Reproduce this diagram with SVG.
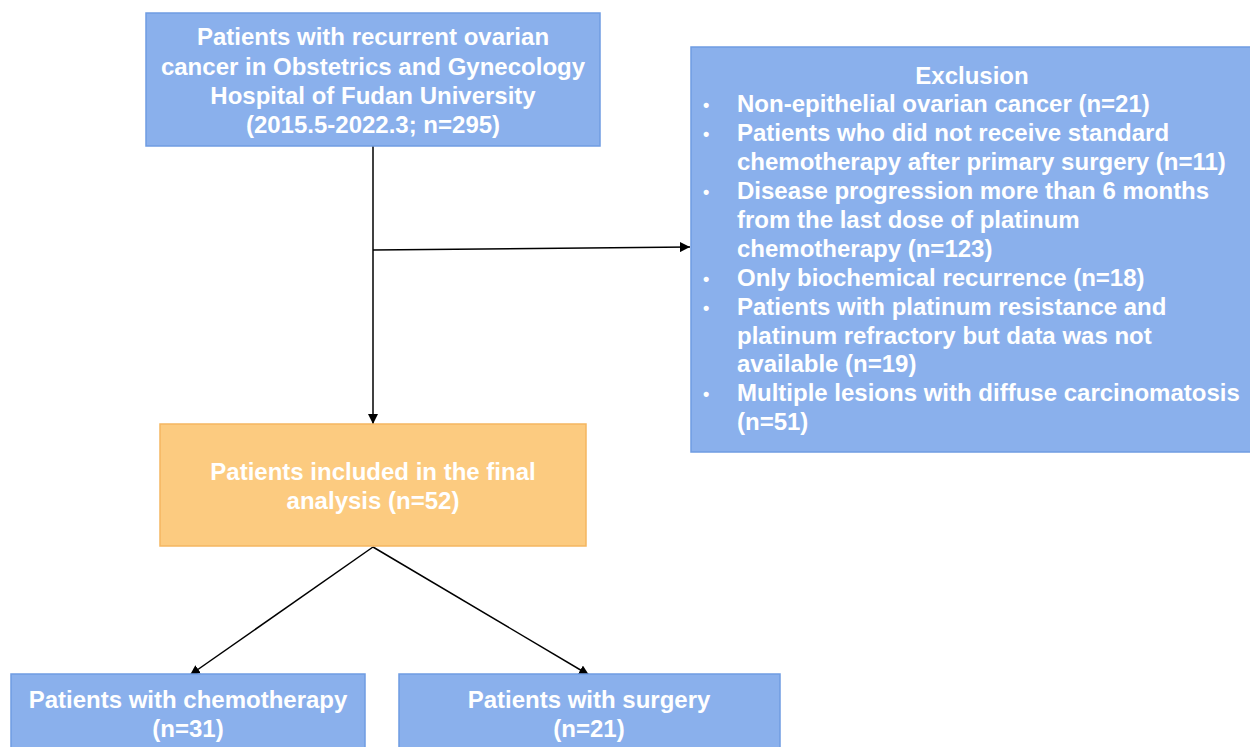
<svg xmlns="http://www.w3.org/2000/svg" width="1250" height="747" viewBox="0 0 1250 747">
<defs>
<marker id="ah" viewBox="0 0 10 10" refX="10" refY="5" markerWidth="10" markerHeight="10" markerUnits="userSpaceOnUse" orient="auto">
<path d="M0,0 L10,5 L0,10 z" fill="#000"/>
</marker>
<style>
.blue{fill:#8AB0EC;stroke:#6F9CE2;stroke-width:1.5}
.orange{fill:#FCCB80;stroke:#F5B660;stroke-width:1.5}
.t{font-family:"Liberation Sans",Arial,sans-serif;font-weight:bold;font-size:24px;fill:#fff}
.c{text-anchor:middle}
.b{font-size:18px}
.ln{stroke:#000;stroke-width:1.5;fill:none}
</style>
</defs>
<rect width="1250" height="747" fill="#fff"/>
<g id="connectors">
<line class="ln" x1="373" y1="146" x2="373" y2="424" marker-end="url(#ah)"/>
<line class="ln" x1="373" y1="250" x2="690" y2="247" marker-end="url(#ah)"/>
<line class="ln" x1="373" y1="547" x2="190" y2="675" marker-end="url(#ah)"/>
<line class="ln" x1="373" y1="547" x2="589" y2="675" marker-end="url(#ah)"/>
</g>
<g id="source">
<rect class="blue" x="146" y="13" width="454" height="133"/>
<text class="t c" x="373" y="45">Patients with recurrent ovarian</text>
<text class="t c" x="373" y="75">cancer in Obstetrics and Gynecology</text>
<text class="t c" x="373" y="104">Hospital of Fudan University</text>
<text class="t c" x="373" y="133">(2015.5-2022.3; n=295)</text>
</g>
<g id="exclusion">
<rect class="blue" x="691" y="47" width="565" height="405"/>
<text class="t c" x="972" y="84">Exclusion</text>
<g class="t">
<text class="b" x="703" y="111">•</text><text x="737" y="112">Non-epithelial ovarian cancer (n=21)</text>
<text class="b" x="703" y="140">•</text><text x="737" y="141">Patients who did not receive standard</text>
<text x="737" y="170">chemotherapy after primary surgery (n=11)</text>
<text class="b" x="703" y="198">•</text><text x="737" y="199">Disease progression more than 6 months</text>
<text x="737" y="228">from the last dose of platinum</text>
<text x="737" y="257">chemotherapy (n=123)</text>
<text class="b" x="703" y="285">•</text><text x="737" y="286">Only biochemical recurrence (n=18)</text>
<text class="b" x="703" y="314">•</text><text x="737" y="315">Patients with platinum resistance and</text>
<text x="737" y="344">platinum refractory but data was not</text>
<text x="737" y="372">available (n=19)</text>
<text class="b" x="703" y="400">•</text><text x="737" y="401">Multiple lesions with diffuse carcinomatosis</text>
<text x="737" y="430">(n=51)</text>
</g>
</g>
<g id="included">
<rect class="orange" x="160" y="424" width="426" height="122"/>
<text class="t c" x="373" y="480">Patients included in the final</text>
<text class="t c" x="373" y="509">analysis (n=52)</text>
</g>
<g id="chemo">
<rect class="blue" x="11" y="674" width="354" height="80"/>
<text class="t c" x="188" y="708">Patients with chemotherapy</text>
<text class="t c" x="188" y="737">(n=31)</text>
</g>
<g id="surgery">
<rect class="blue" x="399" y="674" width="381" height="80"/>
<text class="t c" x="589" y="708">Patients with surgery</text>
<text class="t c" x="589" y="737">(n=21)</text>
</g>
</svg>
